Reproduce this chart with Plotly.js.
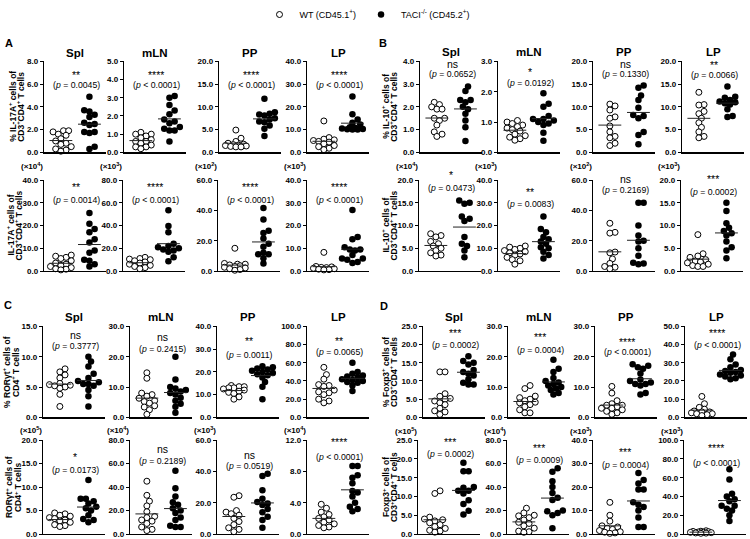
<!DOCTYPE html>
<html>
<head>
<meta charset="utf-8">
<script src="https://cdn.plot.ly/plotly-3.0.1.min.js"></script>
<style>html,body{margin:0;padding:0;background:#fff}#chart{width:750px;height:539px}</style>
</head>
<body>
<div id="chart"></div>
<script>
const tissues = ['Spl', 'mLN', 'PP', 'LP'];
const groupNames = ['WT (CD45.1<sup>+</sup>)', 'TACI<sup>-/-</sup> (CD45.2<sup>+</sup>)'];

// A: IL-17A+ (% and number)
const il17aPctWT = [
  [1.9, 1.9, 1.8, 1.6, 1.5, 1.2, 1.0, 0.8, 0.7, 0.5, 0.3, 0.2, 0.1],
  [1.1, 1.0, 1.0, 0.9, 0.8, 0.7, 0.6, 0.6, 0.5, 0.4, 0.3, 0.3, 0.2],
  [4.9, 3.1, 2.4, 2.0, 1.8, 1.7, 1.6, 1.5, 1.4, 1.3, 1.2, 1.2],
  [13.8, 6.5, 5.8, 5.5, 5.2, 4.8, 4.5, 3.8, 3.0, 2.5, 1.8, 1.2]];
const il17aPctKO = [
  [4.9, 3.7, 3.6, 3.3, 3.1, 2.6, 2.5, 2.4, 1.8, 1.8, 1.7, 0.5, 0.3],
  [3.1, 3.0, 2.6, 2.3, 2.1, 1.8, 1.7, 1.6, 1.4, 1.3, 1.2, 1.2, 0.6],
  [11.8, 8.8, 8.5, 8.3, 8.1, 7.5, 7.2, 6.8, 6.6, 5.9, 5.2, 3.6],
  [24.6, 16.8, 14.5, 13.0, 12.2, 11.0, 10.8, 10.5, 10.3, 10.2, 10.0, 10.0]];
const il17aNumWT = [
  [7.0, 6.5, 6.0, 5.5, 4.5, 3.5, 3.0, 2.5, 2.0, 1.5, 1.0, 0.8, 0.5],
  [12, 11, 10.5, 10, 9, 8, 7, 6, 5, 4, 3, 2],
  [15, 5, 4.5, 4.5, 4, 3.5, 3, 2.5, 2, 1.5, 1, 0.5],
  [8.2, 2.0, 1.8, 1.6, 1.5, 1.2, 1.0, 0.8, 0.6, 0.5]];
const il17aNumKO = [
  [25.5, 20.8, 18.5, 17.0, 14.0, 12.5, 9.0, 8.0, 5.0, 4.5, 3.0, 2.0],
  [53.5, 39.5, 34, 24, 22, 21, 20, 19, 18, 17, 12, 8.5],
  [41.5, 34, 26.5, 25, 21.5, 18, 16, 12, 11, 11, 8.5, 5],
  [26.8, 15, 14, 10.5, 9.5, 9.5, 9, 7, 5.5, 5.5, 5, 4, 3.5]];

// B: IL-10+
const il10PctWT = [
  [2.2, 2.1, 2.0, 1.9, 1.9, 1.5, 1.5, 1.4, 1.2, 0.9, 0.8, 0.7],
  [1.05, 1.0, 0.95, 0.9, 0.85, 0.8, 0.75, 0.7, 0.6, 0.55, 0.5, 0.45, 0.4],
  [10.6, 10.2, 9.3, 7.8, 7.5, 5.8, 4.5, 3.5, 3.2, 2.0, 1.5],
  [13.2, 10.5, 10.4, 9.0, 8.5, 7.5, 6.5, 5.5, 4.5, 3.5, 3.2]];
const il10PctKO = [
  [2.9, 2.7, 2.3, 2.3, 2.2, 2.0, 1.9, 1.7, 1.4, 1.1, 0.5],
  [1.95, 1.6, 1.5, 1.2, 1.1, 1.1, 1.05, 1.0, 0.95, 0.9, 0.65, 0.38],
  [14.7, 14.2, 12.5, 11.5, 9.8, 8.2, 8.0, 7.5, 4.5, 3.8, 1.8],
  [14.5, 12.2, 12.0, 11.5, 11.2, 11.0, 10.8, 10.5, 9.5, 8.0, 7.8]];
const il10NumWT = [
  [8.2, 7.8, 7.5, 6.5, 6.0, 5.5, 5.0, 4.5, 4.0, 3.5, 3.3],
  [11, 10.5, 10, 9.5, 9, 8.5, 8, 7.5, 7, 6, 5, 4.5, 3],
  [31.5, 25.5, 25, 12.5, 12, 8, 5, 3, 2.5, 1.5],
  [8.0, 3.8, 3.3, 3.0, 2.5, 2.2, 2.0, 1.8, 1.5, 1.2, 1.0, 1.0]];
const il10NumKO = [
  [15.5, 15.0, 14.8, 12.0, 11.5, 11.0, 7.5, 6.0, 5.5, 4.5, 3.0],
  [24, 18.5, 17, 15, 14, 13, 12, 10.5, 10, 8.5, 7, 5.5],
  [45, 45, 30, 23.5, 20, 19.5, 15, 10, 5.5, 5, 4.5],
  [15.0, 13.2, 10.5, 9.5, 8.8, 8.3, 7.8, 6.5, 5.2, 4.5, 2.8]];

// C: RORgt+
const rorgtPctWT = [
  [8.0, 7.5, 7.0, 6.5, 5.6, 5.4, 5.3, 5.2, 5.0, 4.8, 3.8, 1.8],
  [14.7, 12.9, 8.0, 7.5, 7.0, 6.3, 5.5, 5.2, 4.7, 3.8, 3.4, 2.5, 1.0],
  [14, 13.5, 13.5, 13, 13, 12.5, 12, 11.5, 11, 10.5, 9, 8],
  [55, 47, 42, 36, 35, 34, 30, 28, 27, 25, 20, 18, 16]];
const rorgtPctKO = [
  [10.0, 9.2, 8.4, 7.2, 6.5, 6.0, 5.8, 5.5, 5.5, 5.2, 4.5, 3.5, 1.8],
  [20.0, 12.5, 10.0, 9.5, 9.0, 8.5, 8.0, 7.5, 6.5, 5.5, 4.5, 3.5, 1.5],
  [22.5, 22, 21.5, 21, 20.5, 20, 19.5, 19, 18.5, 17.5, 15.5, 13.5, 8],
  [60, 50, 48, 46, 45, 44, 42, 41, 40, 39, 38, 35, 29]];
const rorgtNumWT = [
  [4.5, 4.3, 4.0, 3.8, 3.5, 3.3, 3.0, 2.8, 2.5, 2.0, 1.8, 1.6],
  [45, 33, 28, 24, 19, 15, 14, 12, 11, 9, 6, 4, 3],
  [24.5, 23.5, 15, 14, 13, 12, 10, 8, 6, 4, 3, 1.5],
  [3.8, 3.3, 2.8, 2.5, 2.2, 2.0, 1.8, 1.5, 1.3, 1.1, 0.9, 0.8]];
const rorgtNumKO = [
  [11.5, 7.5, 7.5, 7.0, 6.5, 5.8, 5.5, 5.0, 4.0, 3.2, 3.0, 2.5],
  [54, 39, 32, 27, 25, 22, 20, 18, 14, 12, 7, 6, 6],
  [38.5, 37, 28, 22.5, 20.5, 19.5, 18.5, 16, 14, 11, 9, 4],
  [8.7, 8.7, 7.5, 7.2, 6.5, 5.5, 5.3, 4.8, 4.0, 3.5, 3.2, 2.9]];

// D: Foxp3+
const foxp3PctWT = [
  [12.5, 12.5, 6.5, 5.8, 5.2, 5.0, 4.5, 4.0, 3.5, 2.5, 1.8, 1.5, 0.8],
  [10.5, 9.5, 7.0, 6.5, 6.0, 5.5, 5.0, 4.8, 4.2, 3.5, 2.5, 1.5, 1.5],
  [10.2, 8.0, 5.5, 4.5, 4.0, 4.0, 3.5, 3.0, 3.0, 2.5, 2.0, 1.5, 1.0],
  [11.5, 7.5, 5.5, 4.5, 3.5, 3.0, 3.0, 2.5, 2.0, 2.0, 1.5, 1.0]];
const foxp3PctKO = [
  [16.8, 15.5, 15.0, 14.5, 13.0, 12.5, 12.0, 11.5, 10.5, 9.5, 9.0, 9.0],
  [19, 16, 15, 13, 12, 11.5, 11, 10.5, 10, 9.5, 9, 8, 7.5],
  [17.5, 17, 16.5, 16, 14.5, 12.5, 12, 11.5, 11, 11, 10.5, 8, 7.5],
  [34.5, 32, 29, 27.5, 26, 25.5, 25, 24.5, 23.5, 23, 22.5, 21.5, 21]];
const foxp3NumWT = [
  [11.5, 10.8, 4.5, 4.0, 3.8, 3.5, 3.0, 2.5, 2.0, 1.5, 1.0, 0.8, 0.5],
  [22, 18, 16, 15.5, 14, 12, 10, 9, 7, 5, 2.5, 2, 1.5],
  [13.5, 8.0, 5.5, 3.5, 3.0, 2.5, 2.0, 1.5, 1.0, 0.8, 0.5, 0.3],
  [3.5, 3.0, 2.8, 2.5, 2.2, 2.0, 1.8, 1.5, 1.2, 1.0, 0.8]];
const foxp3NumKO = [
  [19, 16.7, 16.7, 12.5, 12.3, 11.5, 11.5, 10.8, 9.0, 8.0, 6.2, 5.2],
  [56, 53, 45, 40, 35, 31, 29, 20, 19.5, 18, 16, 5],
  [26, 23, 21.5, 19, 19, 13.5, 12.5, 11.5, 10, 7, 3, 3],
  [69, 58, 43, 40, 37, 35, 30, 30, 27, 25, 20, 14]];

// significance labels and p values, per tissue
const il17aPctSig = ['**', '****', '****', '****'];
const il17aPctP = ['= 0.0045', '< 0.0001', '< 0.0001', '< 0.0001'];
const il17aNumSig = ['**', '****', '****', '****'];
const il17aNumP = ['= 0.0014', '< 0.0001', '< 0.0001', '< 0.0001'];
const il10PctSig = ['ns', '*', 'ns', '**'];
const il10PctP = ['= 0.0652', '= 0.0192', '= 0.1330', '= 0.0066'];
const il10NumSig = ['*', '**', 'ns', '***'];
const il10NumP = ['= 0.0473', '= 0.0083', '= 0.2169', '= 0.0002'];
const rorgtPctSig = ['ns', 'ns', '**', '**'];
const rorgtPctP = ['= 0.3777', '= 0.2415', '= 0.0011', '= 0.0065'];
const rorgtNumSig = ['*', 'ns', 'ns', '****'];
const rorgtNumP = ['= 0.0173', '= 0.2189', '= 0.0519', '< 0.0001'];
const foxp3PctSig = ['***', '***', '****', '****'];
const foxp3PctP = ['= 0.0002', '= 0.0004', '< 0.0001', '< 0.0001'];
const foxp3NumSig = ['***', '***', '***', '****'];
const foxp3NumP = ['= 0.0002', '= 0.0009', '= 0.0004', '< 0.0001'];

// axis maxima, tick steps and multipliers
const il17aPctMax = [8, 5, 20, 40], il17aPctStep = [2, 1, 5, 10];
const il17aNumMax = [40, 80, 60, 40], il17aNumStep = [10, 20, 20, 10], il17aNumExp = [4, 3, 2, 3];
const il10PctMax = [4, 3, 20, 20], il10PctStep = [1, 1, 5, 5];
const il10NumMax = [20, 40, 60, 20], il10NumStep = [5, 10, 20, 5], il10NumExp = [4, 3, 2, 3];
const rorgtPctMax = [15, 30, 40, 100], rorgtPctStep = [5, 10, 10, 20];
const rorgtNumMax = [20, 80, 60, 12], rorgtNumStep = [5, 20, 20, 4], rorgtNumExp = [5, 4, 3, 4];
const foxp3PctMax = [25, 30, 30, 50], foxp3PctStep = [5, 10, 10, 10];
const foxp3NumMax = [25, 80, 40, 100], foxp3NumStep = [5, 20, 10, 20], foxp3NumExp = [5, 4, 3, 3];

const W = 750, H = 539, PW = 62;
const XMIN = -0.59, XMAX = 1.58;
const FONT = 'Liberation Sans, Arial, sans-serif';

const rows = [
  {wt: il17aPctWT, ko: il17aPctKO, sig: il17aPctSig, p: il17aPctP, ymax: il17aPctMax, step: il17aPctStep,
   axes: [44, 124, 219, 307], top: 56, bottom: 148, titleY: 48, letter: 'A', letterX: 3, letterY: 37,
   starY: [67, 67, 67, 67], pY: [80, 80, 80, 80],
   ytitle: ['% IL-17A<sup>+</sup> cells of', 'CD3<sup>+</sup>CD4<sup>+</sup> T cells'], ytX: [13, 21]},
  {wt: il17aNumWT, ko: il17aNumKO, sig: il17aNumSig, p: il17aNumP, ymax: il17aNumMax, step: il17aNumStep, exp: il17aNumExp,
   axes: [44, 123, 218, 307], top: 176, bottom: 268, expY: 162,
   starY: [180, 180, 180, 180], pY: [196, 196, 196, 196],
   ytitle: ['IL-17A<sup>+</sup> cells of', 'CD3<sup>+</sup>CD4<sup>+</sup> T cells'], ytX: [11, 19]},
  {wt: il10PctWT, ko: il10PctKO, sig: il10PctSig, p: il10PctP, ymax: il10PctMax, step: il10PctStep,
   axes: [420, 498, 593, 682], top: 56, bottom: 148, titleY: 47, letter: 'B', letterX: 377, letterY: 37,
   starY: [59, 64, 59, 57], pY: [69, 78, 69, 70],
   ytitle: ['% IL-10<sup>+</sup> cells of', 'CD3<sup>+</sup>CD4<sup>+</sup> T cells'], ytX: [386, 394]},
  {wt: il10NumWT, ko: il10NumKO, sig: il10NumSig, p: il10NumP, ymax: il10NumMax, step: il10NumStep, exp: il10NumExp,
   axes: [419, 498, 593, 681], top: 176, bottom: 268, expY: 162,
   starY: [168, 185, 175, 172], pY: [184, 200, 186, 188],
   ytitle: ['IL-10<sup>+</sup> cells of', 'CD3<sup>+</sup>CD4<sup>+</sup> T cells'], ytX: [386, 394]},
  {wt: rorgtPctWT, ko: rorgtPctKO, sig: rorgtPctSig, p: rorgtPctP, ymax: rorgtPctMax, step: rorgtPctStep,
   axes: [43, 130, 217, 307], top: 324, bottom: 416, titleY: 314, letter: 'C', letterX: 2, letterY: 302,
   starY: [333, 335, 336, 336], pY: [344, 347, 353, 350],
   ytitle: ['% ROR\u03b3t<sup>+</sup> cells of', 'CD4<sup>+</sup> T cells'], ytX: [7, 16]},
  {wt: rorgtNumWT, ko: rorgtNumKO, sig: rorgtNumSig, p: rorgtNumP, ymax: rorgtNumMax, step: rorgtNumStep, exp: rorgtNumExp,
   axes: [43, 130, 217, 307], top: 439, bottom: 534, expY: 429,
   starY: [453, 448, 454, 438], pY: [469, 460, 465, 456],
   ytitle: ['ROR\u03b3t<sup>+</sup> cells of', 'CD4<sup>+</sup> T cells'], ytX: [9, 18]},
  {wt: foxp3PctWT, ko: foxp3PctKO, sig: foxp3PctSig, p: foxp3PctP, ymax: foxp3PctMax, step: foxp3PctStep,
   axes: [423, 508, 595, 685], top: 324, bottom: 416, titleY: 314, letter: 'D', letterX: 378, letterY: 303,
   starY: [328, 332, 337, 328], pY: [343, 348, 350, 343],
   ytitle: ['% Foxp3<sup>+</sup> cells of', 'CD3<sup>+</sup>CD4<sup>+</sup> T cells'], ytX: [386, 394]},
  {wt: foxp3NumWT, ko: foxp3NumKO, sig: foxp3NumSig, p: foxp3NumP, ymax: foxp3NumMax, step: foxp3NumStep, exp: foxp3NumExp,
   axes: [418, 507, 593, 684], top: 439, bottom: 534, expY: 430,
   starY: [438, 444, 448, 444], pY: [453, 459, 464, 462],
   ytitle: ['Foxp3<sup>+</sup> cells of', 'CD3<sup>+</sup>CD4<sup>+</sup> T cells'], ytX: [386, 394]}
];

// beeswarm-ish spread in pixel space, points may overlap a little; returns x offsets in data units
function swarm(vals, pxY, pxX, d, maxOff) {
  const order = vals.map((v, i) => i).sort((a, b) => vals[a] - vals[b]);
  const placed = [];
  const off = vals.map(() => 0);
  const cands = [0];
  for (let s = d / 2; s <= maxOff + 0.01; s += d / 2) cands.push(s, -s);
  order.forEach(i => {
    const y = vals[i] * pxY;
    let best = 0, bestDist = -1;
    for (const x of cands) {
      const dist = placed.reduce((m, q) => Math.min(m, Math.hypot(q.x - x, q.y - y)), Infinity);
      if (dist >= d) { best = x; bestDist = dist; break; }
      if (dist > bestDist + 0.3) { best = x; bestDist = dist; }
    }
    placed.push({x: best, y: y});
    off[i] = best / pxX;
  });
  return off;
}

const mean = a => a.reduce((s, v) => s + v, 0) / a.length;
const px = x => x / W;
const py = y => 1 - y / H;

const data = [];
const annotations = [];
const layout = {
  width: W, height: H,
  margin: {l: 0, r: 0, t: 0, b: 0},
  paper_bgcolor: '#fff', plot_bgcolor: 'rgba(0,0,0,0)',
  font: {family: FONT, color: '#000'},
  showlegend: true,
  legend: {orientation: 'h', x: 0.49, xanchor: 'center', y: 1.012, yanchor: 'top',
           font: {size: 9, family: FONT}, itemwidth: 30, bgcolor: 'rgba(0,0,0,0)'},
  annotations: annotations
};

function note(x, y, text, font, extra) {
  annotations.push(Object.assign({xref: 'paper', yref: 'paper', x: px(x), y: py(y),
    xanchor: 'center', yanchor: 'middle', text: text, showarrow: false,
    font: Object.assign({family: FONT, color: '#000'}, font)}, extra || {}));
}

let n = 0;
rows.forEach(r => {
  for (let j = 0; j < 4; j++) {
    n++;
    const sfx = n === 1 ? '' : String(n);
    const xa = 'x' + sfx, ya = 'y' + sfx;
    const x0 = r.axes[j];
    layout['xaxis' + sfx] = {
      domain: [px(x0), px(x0 + PW)], anchor: ya, range: [XMIN, XMAX],
      showline: true, linecolor: '#000', linewidth: 1.2, showgrid: false, zeroline: false,
      showticklabels: false, ticks: '', fixedrange: true
    };
    layout['yaxis' + sfx] = {
      domain: [py(r.bottom), py(r.top)], anchor: xa, range: [0, r.ymax[j]],
      tick0: 0, dtick: r.step[j], tickformat: '.1f',
      showline: true, linecolor: '#000', linewidth: 1.2, showgrid: false, zeroline: false,
      ticks: 'outside', ticklen: 3, tickwidth: 1, tickcolor: '#000',
      tickfont: {size: 8, family: FONT, weight: 'bold'}, fixedrange: true
    };
    const pxY = (r.bottom - r.top) / r.ymax[j];
    const pxX = PW / (XMAX - XMIN);
    [r.wt[j], r.ko[j]].forEach((vals, g) => {
      const off = swarm(vals, pxY, pxX, 5.2, 10.5);
      data.push({
        type: 'scatter', mode: 'markers', xaxis: xa, yaxis: ya,
        x: vals.map((v, i) => g + off[i]), y: vals,
        name: groupNames[g], showlegend: n === 1, cliponaxis: false,
        marker: g === 0
          ? {size: 6, color: '#fff', line: {color: '#000', width: 1}}
          : {size: 6.5, color: '#000', line: {width: 0}}
      });
      const m = mean(vals);
      data.push({
        type: 'scatter', mode: 'lines', xaxis: xa, yaxis: ya,
        x: [g - 0.4, g + 0.4], y: [m, m], showlegend: false, cliponaxis: false,
        line: {color: '#222', width: 1}
      });
    });

    const cx = x0 + PW / 2 + 1;
    if (r.titleY) note(x0 + PW / 2, r.titleY, '<b>' + tissues[j] + '</b>', {size: 11.5});
    const isNs = r.sig[j] === 'ns';
    note(cx, r.starY[j] + (isNs ? 0 : 3), r.sig[j], {size: isNs ? 10.5 : 10.5});
    note(cx, r.pY[j], '(<i>p</i> ' + r.p[j] + ')', {size: 8.7});
    if (r.exp) note(x0 + 1, r.expY, '<b>(\u00d710<sup>' + r.exp[j] + '</sup>)</b>', {size: 8}, {xanchor: 'right'});
  }
  const midY = (r.top + r.bottom) / 2;
  r.ytitle.forEach((t, k) => note(r.ytX[k], midY, '<b>' + t + '</b>', {size: 8.5}, {textangle: -90}));
  if (r.letter) note(r.letterX, r.letterY, '<b>' + r.letter + '</b>', {size: 11}, {xanchor: 'left'});
});

Plotly.newPlot('chart', data, layout, {displayModeBar: false, staticPlot: true});
</script>
</body>
</html>
